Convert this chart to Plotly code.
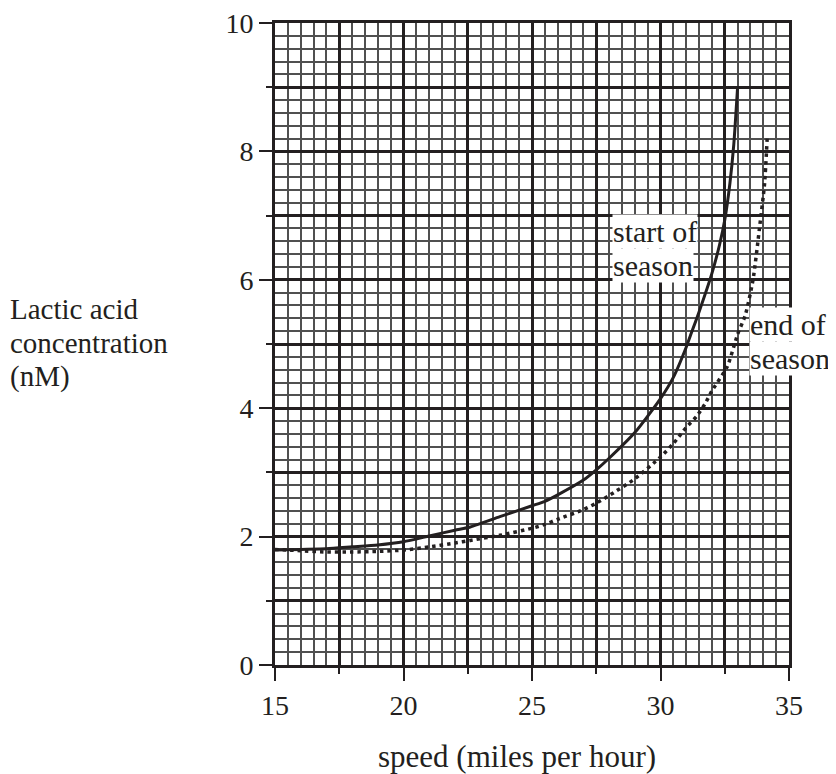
import plotly.graph_objects as go

# speed (mph) vs lactic acid concentration (nM)
start_x = [15, 16, 17, 18, 19, 20, 21, 22, 22.6, 23.75, 25, 25.5, 26, 27, 27.5, 28, 29, 30, 30.5, 31, 31.2, 31.5, 32, 32.3, 32.5, 32.7, 32.85, 33]
start_y = [1.79, 1.8, 1.81, 1.84, 1.87, 1.92, 2.01, 2.1, 2.15, 2.31, 2.48, 2.55, 2.65, 2.88, 3.04, 3.22, 3.62, 4.15, 4.48, 4.95, 5.17, 5.5, 6.1, 6.55, 6.93, 7.5, 8.1, 9.0]

end_x = [15, 16, 17, 18, 19, 20, 21, 22, 22.6, 23.75, 25, 25.5, 26, 27, 27.5, 28, 29, 30, 30.5, 31, 31.4, 31.75, 32, 32.6, 33, 33.3, 33.6, 33.85, 34.05, 34.15]
end_y = [1.8, 1.78, 1.76, 1.76, 1.77, 1.79, 1.84, 1.9, 1.94, 2.02, 2.13, 2.19, 2.27, 2.42, 2.52, 2.64, 2.9, 3.24, 3.45, 3.7, 3.87, 4.08, 4.27, 4.65, 5.15, 5.45, 6.0, 6.8, 7.5, 8.2]

x_ticks = [15, 20, 25, 30, 35]
y_ticks = [0, 2, 4, 6, 8, 10]
x_range = [15, 35]
y_range = [0, 10]

y_title_lines = ["Lactic acid", "concentration", "(nM)"]
x_title = "speed (miles per hour)"
start_label = ["start of", "season"]
end_label = ["end of", "season"]

FONT = "Liberation Serif"
FS = 31
LFS = 30
YFS = 29
TFS = 28
INK = "#231f20"

fig = go.Figure()
fig.add_trace(go.Scatter(x=start_x, y=start_y, mode="lines",
                         line=dict(color=INK, width=3, shape="spline", smoothing=0.6),
                         showlegend=False, hoverinfo="skip"))
fig.add_trace(go.Scatter(x=end_x, y=end_y, mode="lines",
                         line=dict(color=INK, width=3.5, dash="3.5px,4px", shape="spline", smoothing=0.6),
                         showlegend=False, hoverinfo="skip"))
# carrier trace for the overlay axes (medium grid + short ticks)
fig.add_trace(go.Scatter(x=[x_range[0]], y=[y_range[0]], mode="lines", xaxis="x2", yaxis="y2",
                         showlegend=False, hoverinfo="skip", line=dict(width=0)))

fig.update_layout(
    width=828, height=766,
    margin=dict(l=267, r=47, t=15, b=109, autoexpand=False),
    paper_bgcolor="white", plot_bgcolor="white",
    font=dict(family=FONT, size=FS, color=INK),
    xaxis=dict(range=x_range, tickvals=x_ticks, ticks="outside", ticklen=13, tickwidth=2,
               tickcolor=INK, showgrid=False, zeroline=False, ticklabeloverflow="allow",
               automargin=False,
               showline=True, linewidth=3, linecolor=INK, mirror=True,
               tickfont=dict(family=FONT, size=TFS, color=INK),
               minor=dict(dtick=0.5, tick0=15, showgrid=True, gridcolor="#505050", gridwidth=1.5, ticks="")),
    yaxis=dict(range=y_range, tickvals=y_ticks, ticks="outside", ticklen=13, tickwidth=2,
               tickcolor=INK, showgrid=False, zeroline=False, ticklabeloverflow="allow",
               automargin=False,
               showline=True, linewidth=3, linecolor=INK, mirror=True,
               tickfont=dict(family=FONT, size=TFS, color=INK),
               minor=dict(dtick=0.2, tick0=0, showgrid=True, gridcolor="#505050", gridwidth=1.5, ticks="")),
    xaxis2=dict(range=x_range, overlaying="x", anchor="y2", side="bottom", tick0=15, dtick=2.5,
                ticks="outside", ticklen=8, tickwidth=2, tickcolor=INK, showticklabels=False,
                automargin=False,
                showgrid=True, gridcolor=INK, gridwidth=2.5, zeroline=False, showline=False),
    yaxis2=dict(range=y_range, overlaying="y", anchor="x2", side="left", tick0=0, dtick=1,
                ticks="outside", ticklen=8, tickwidth=2, tickcolor=INK, showticklabels=False,
                automargin=False,
                showgrid=True, gridcolor=INK, gridwidth=2.5, zeroline=False, showline=False),
)

def box_label(lines, x, ys):
    for txt, yy in zip(lines, ys):
        fig.add_annotation(text=txt, x=x, y=yy, xref="x", yref="y",
                           xanchor="left", yanchor="top", align="left", showarrow=False,
                           bgcolor="white", borderpad=0, font=dict(family=FONT, size=LFS, color=INK))

box_label(start_label, 28.1, [7.02, 6.49])
box_label(end_label, 33.45, [5.58, 5.05])

for txt, yy in zip(y_title_lines, [0.554, 0.502, 0.45]):
    fig.add_annotation(text=txt, x=-0.519, y=yy, xref="paper", yref="paper",
                       xanchor="left", yanchor="middle", align="left",
                       showarrow=False, font=dict(family=FONT, size=YFS, color=INK))

fig.add_annotation(text=x_title, x=0.745, y=-0.142, xref="paper", yref="paper",
                   xanchor="right", yanchor="middle", showarrow=False,
                   font=dict(family=FONT, size=FS, color=INK))

fig.write_html("out.html")
